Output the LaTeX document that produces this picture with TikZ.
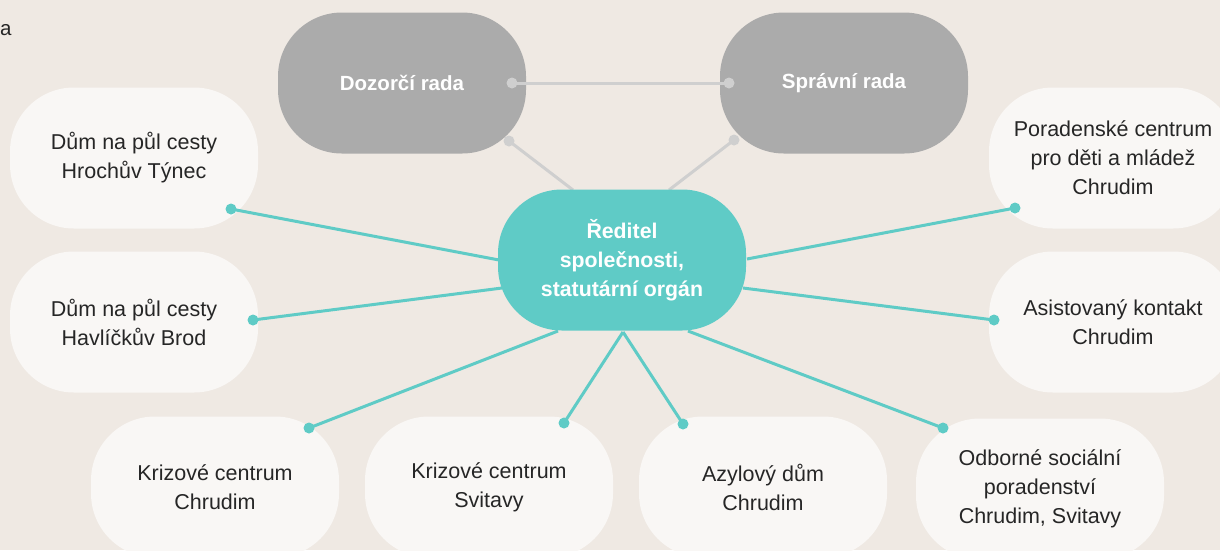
\documentclass[tikz,border=0pt]{standalone}
\usepackage{fontspec}
\setmainfont{Liberation Sans}
\definecolor{bgbeige}{HTML}{EFE9E3}
\definecolor{boxwhite}{HTML}{F9F7F5}
\definecolor{boxgray}{HTML}{ABABAB}
\definecolor{tealone}{HTML}{5FCBC6}
\definecolor{linegray}{HTML}{CFCFCF}
\definecolor{textdark}{HTML}{262626}
\begin{document}
\begin{tikzpicture}[x=1pt,y=-1pt,
  wbox/.style={fill=boxwhite, rounded corners=64pt, minimum width=248pt, minimum height=141pt, inner sep=0pt, align=center, text=textdark, font=\fontsize{21.5}{29}\selectfont},
  gbox/.style={wbox, fill=boxgray, text=white, font=\bfseries\fontsize{20.5}{29}\selectfont},
  cbox/.style={gbox, fill=tealone, font=\bfseries\fontsize{21.3}{29}\selectfont},
  tdot/.style={circle, fill=tealone, inner sep=0pt, minimum size=11pt},
  gdot/.style={circle, fill=linegray, inner sep=0pt, minimum size=11pt},
  tline/.style={draw=tealone, line width=3pt},
  gline/.style={draw=linegray, line width=3pt}]
\useasboundingbox (0,0) rectangle (1220,550);
\clip (0,0) rectangle (1220,550);
\fill[bgbeige] (0,0) rectangle (1220,550);
\node[anchor=base west, text=textdark, font=\fontsize{20.5}{29}\selectfont, inner sep=0pt] (frag) at (0,35) {a};

% white boxes
\node[wbox] (hroch) at (134,158) {Dům na půl cesty\\Hrochův Týnec};
\node[wbox] (havl) at (134,322) {Dům na půl cesty\\Havlíčkův Brod};
\node[wbox] (kchr) at (215,487) {Krizové centrum\\Chrudim};
\node[wbox] (ksvi) at (489,487) {Krizové centrum\\Svitavy};
\node[wbox] (azyl) at (763,487) {Azylový dům\\Chrudim};
\node[wbox] (odb) at (1040,489) {Odborné sociální\\poradenství\\Chrudim, Svitavy};
\node[wbox] (asis) at (1113,322) {Asistovaný kontakt\\Chrudim};
\node[wbox] (pora) at (1113,158) {Poradenské centrum\\pro děti a mládež\\Chrudim};

% gray boxes
\node[gbox] (dozor) at (402,83) {Dozorčí rada};
\node[gbox] (sprav) at (844,83) {Správní rada};

% endpoints on the director node
\coordinate (e1) at (499,260);
\coordinate (e2) at (502,288);
\coordinate (e3) at (558,331);
\coordinate (e4) at (623,332);
\coordinate (e6) at (688,331);
\coordinate (e7) at (743,288);
\coordinate (e8) at (747,259);
\coordinate (eg1) at (573,190);
\coordinate (eg2) at (669,190);

% dots
\node[tdot] (d1) at (231,209) {};
\node[tdot] (d2) at (253,320) {};
\node[tdot] (d3) at (309,428) {};
\node[tdot] (d4) at (564,423) {};
\node[tdot] (d5) at (683,424) {};
\node[tdot] (d6) at (943,428) {};
\node[tdot] (d7) at (994,320) {};
\node[tdot] (d8) at (1015,208) {};
\node[gdot] (g1) at (512,83) {};
\node[gdot] (g2) at (729,83) {};
\node[gdot] (g3) at (509,141) {};
\node[gdot] (g4) at (734,140) {};

% connectors
\draw[gline] (g1.center) -- (g2.center);
\draw[gline] (g3.center) -- (eg1);
\draw[gline] (g4.center) -- (eg2);
\draw[tline] (d1.center) -- (e1);
\draw[tline] (d2.center) -- (e2);
\draw[tline] (d3.center) -- (e3);
\draw[tline] (d4.center) -- (e4);
\draw[tline] (d5.center) -- (e4);
\draw[tline] (d6.center) -- (e6);
\draw[tline] (d7.center) -- (e7);
\draw[tline] (d8.center) -- (e8);

% director
\node[cbox] (ceo) at (622,260) {Ředitel\\společnosti,\\statutární orgán};
\end{tikzpicture}
\end{document}
